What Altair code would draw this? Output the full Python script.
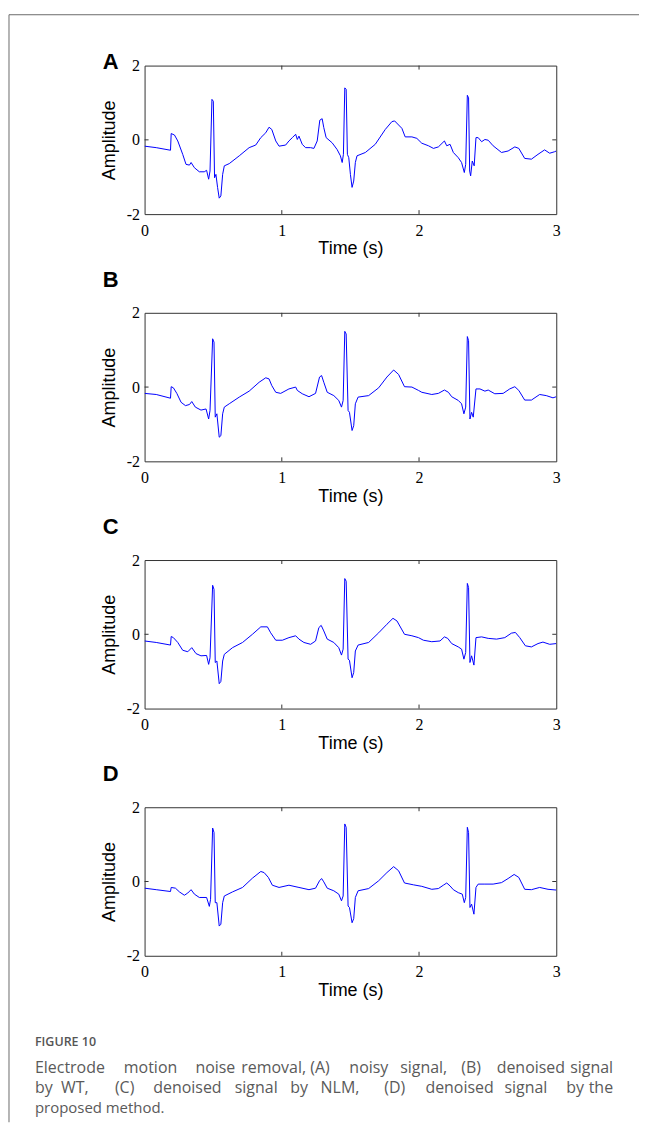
import altair as alt
import pandas as pd

# ---------------- data ----------------
time_a = [0, 0.085, 0.189, 0.194, 0.218, 0.242, 0.278, 0.302, 0.327, 0.339, 0.363, 0.399, 0.435, 0.452,
          0.467, 0.477, 0.491, 0.501, 0.510, 0.520, 0.532, 0.544, 0.556, 0.569, 0.581, 0.617, 0.690, 0.762,
          0.810, 0.847, 0.883, 0.907, 0.927, 0.956, 0.980, 1.028, 1.052, 1.077, 1.101, 1.113, 1.125, 1.149,
          1.173, 1.210, 1.234, 1.258, 1.277, 1.294, 1.306, 1.323, 1.367, 1.403, 1.427, 1.440, 1.449, 1.459,
          1.469, 1.478, 1.488, 1.500, 1.512, 1.524, 1.536, 1.548, 1.609, 1.681, 1.754, 1.802, 1.822, 1.875,
          1.899, 1.948, 1.984, 2.020, 2.069, 2.105, 2.141, 2.185, 2.202, 2.226, 2.250, 2.286, 2.310, 2.330,
          2.340, 2.352, 2.361, 2.369, 2.376, 2.388, 2.402, 2.415, 2.431, 2.456, 2.480, 2.504, 2.540, 2.601,
          2.649, 2.698, 2.727, 2.770, 2.819, 2.867, 2.915, 2.952, 2.988, 3.0]
amp_a = [-0.17, -0.21, -0.28, 0.17, 0.13, -0.03, -0.39, -0.66, -0.68, -0.61, -0.75, -0.86, -0.86, -0.82,
         -1.06, -0.84, 1.09, 1.04, -1.02, -0.93, -1.28, -1.57, -1.51, -0.93, -0.70, -0.64, -0.43, -0.21,
         -0.14, 0.06, 0.19, 0.34, 0.28, -0.03, -0.17, -0.14, -0.03, 0.06, 0.15, 0.01, 0.10, -0.12,
         -0.21, -0.21, -0.23, -0.03, 0.53, 0.57, 0.33, 0.06, -0.08, -0.26, -0.43, -0.61, -0.39, 1.40,
         1.36, -0.39, -0.48, -0.93, -1.28, -1.11, -0.61, -0.43, -0.34, -0.12, 0.28, 0.49, 0.51, 0.31,
         0.08, 0.08, 0.04, -0.09, -0.16, -0.23, -0.19, -0.03, -0.16, -0.12, -0.34, -0.48, -0.61, -0.88,
         -0.66, 1.20, 1.13, -0.84, -0.97, -0.57, -0.70, 0.06, 0.06, -0.05, 0.01, -0.01, -0.16, -0.34,
         -0.30, -0.19, -0.23, -0.50, -0.52, -0.39, -0.27, -0.36, -0.32, -0.30]

time_b = [0, 0.085, 0.189, 0.194, 0.210, 0.235, 0.266, 0.298, 0.327, 0.344, 0.370, 0.411, 0.448, 0.467,
          0.477, 0.496, 0.506, 0.515, 0.527, 0.544, 0.556, 0.569, 0.581, 0.617, 0.690, 0.762, 0.835, 0.883,
          0.907, 0.927, 0.956, 0.992, 1.052, 1.101, 1.113, 1.149, 1.198, 1.246, 1.275, 1.290, 1.306, 1.331,
          1.379, 1.415, 1.435, 1.447, 1.459, 1.469, 1.483, 1.493, 1.512, 1.524, 1.536, 1.556, 1.633, 1.706,
          1.766, 1.815, 1.851, 1.894, 1.948, 1.996, 2.020, 2.093, 2.141, 2.185, 2.214, 2.238, 2.286, 2.310,
          2.327, 2.340, 2.352, 2.361, 2.371, 2.383, 2.395, 2.415, 2.444, 2.480, 2.504, 2.552, 2.613, 2.661,
          2.698, 2.727, 2.770, 2.819, 2.879, 2.927, 2.976, 3.0]
amp_b = [-0.17, -0.20, -0.30, 0.01, -0.02, -0.17, -0.41, -0.50, -0.47, -0.39, -0.54, -0.62, -0.59, -0.86,
         -0.63, 1.30, 1.21, -0.81, -0.72, -1.35, -1.31, -0.72, -0.54, -0.45, -0.27, -0.11, 0.13, 0.25,
         0.22, 0.04, -0.14, -0.17, -0.05, 0.00, -0.09, -0.18, -0.26, -0.17, 0.27, 0.31, 0.13, -0.14,
         -0.23, -0.36, -0.54, -0.36, 1.50, 1.43, -0.63, -0.68, -1.17, -1.04, -0.45, -0.27, -0.23, -0.02,
         0.27, 0.46, 0.34, 0.01, 0.00, -0.09, -0.14, -0.20, -0.17, -0.08, -0.14, -0.26, -0.36, -0.45,
         -0.72, -0.54, 1.36, 1.25, -0.86, -0.68, -0.81, -0.05, -0.05, -0.11, -0.08, -0.18, -0.17, -0.05,
         0.01, -0.09, -0.35, -0.35, -0.20, -0.23, -0.29, -0.26]

time_c = [0, 0.085, 0.189, 0.194, 0.210, 0.242, 0.278, 0.315, 0.344, 0.375, 0.411, 0.452, 0.467, 0.477,
          0.496, 0.506, 0.515, 0.527, 0.544, 0.556, 0.569, 0.581, 0.641, 0.714, 0.786, 0.847, 0.895, 0.919,
          0.956, 1.004, 1.052, 1.101, 1.125, 1.161, 1.210, 1.246, 1.270, 1.287, 1.306, 1.331, 1.379, 1.415,
          1.435, 1.447, 1.459, 1.469, 1.483, 1.493, 1.512, 1.524, 1.536, 1.556, 1.633, 1.706, 1.766, 1.810,
          1.839, 1.894, 1.948, 1.996, 2.032, 2.093, 2.153, 2.185, 2.209, 2.238, 2.286, 2.310, 2.327, 2.340,
          2.352, 2.361, 2.371, 2.383, 2.400, 2.415, 2.456, 2.504, 2.565, 2.625, 2.673, 2.702, 2.734, 2.775,
          2.819, 2.867, 2.903, 2.952, 3.0]
amp_c = [-0.18, -0.22, -0.29, -0.06, -0.09, -0.22, -0.43, -0.47, -0.36, -0.52, -0.58, -0.57, -0.81, -0.63,
         1.32, 1.21, -0.76, -0.72, -1.33, -1.27, -0.72, -0.54, -0.36, -0.22, 0.00, 0.20, 0.20, 0.04,
         -0.16, -0.16, -0.09, -0.04, -0.13, -0.22, -0.27, -0.18, 0.18, 0.24, 0.09, -0.13, -0.22, -0.36,
         -0.56, -0.40, 1.50, 1.43, -0.67, -0.70, -1.17, -1.03, -0.45, -0.29, -0.22, 0.04, 0.27, 0.43,
         0.36, 0.00, -0.04, -0.09, -0.16, -0.20, -0.18, -0.07, -0.11, -0.25, -0.34, -0.40, -0.67, -0.49,
         1.37, 1.26, -0.76, -0.58, -0.83, -0.09, -0.07, -0.11, -0.13, -0.09, 0.03, 0.05, -0.09, -0.31,
         -0.34, -0.25, -0.21, -0.27, -0.25]

time_d = [0, 0.085, 0.189, 0.194, 0.225, 0.254, 0.290, 0.315, 0.339, 0.363, 0.399, 0.452, 0.472, 0.481,
          0.496, 0.506, 0.515, 0.527, 0.544, 0.556, 0.569, 0.581, 0.641, 0.714, 0.786, 0.847, 0.871, 0.902,
          0.931, 0.980, 1.052, 1.125, 1.198, 1.246, 1.275, 1.290, 1.306, 1.331, 1.379, 1.415, 1.435, 1.447,
          1.459, 1.469, 1.483, 1.493, 1.512, 1.524, 1.536, 1.556, 1.633, 1.706, 1.766, 1.815, 1.851, 1.894,
          1.960, 2.020, 2.093, 2.141, 2.177, 2.202, 2.226, 2.250, 2.286, 2.315, 2.330, 2.340, 2.352, 2.361,
          2.371, 2.383, 2.400, 2.415, 2.431, 2.480, 2.540, 2.601, 2.649, 2.693, 2.727, 2.770, 2.819, 2.879,
          2.940, 3.0]
amp_d = [-0.18, -0.22, -0.27, -0.16, -0.18, -0.28, -0.37, -0.31, -0.22, -0.34, -0.43, -0.43, -0.67, -0.48,
         1.44, 1.32, -0.57, -0.57, -1.20, -1.15, -0.57, -0.39, -0.28, -0.16, 0.09, 0.27, 0.24, 0.11,
         -0.10, -0.16, -0.10, -0.16, -0.22, -0.18, 0.02, 0.08, -0.01, -0.18, -0.25, -0.34, -0.52, -0.39,
         1.55, 1.46, -0.66, -0.70, -1.11, -1.00, -0.43, -0.25, -0.19, 0.02, 0.24, 0.40, 0.29, -0.04,
         -0.09, -0.13, -0.21, -0.19, -0.10, -0.04, -0.12, -0.22, -0.30, -0.34, -0.57, -0.43, 1.46, 1.32,
         -0.70, -0.61, -0.88, -0.16, -0.07, -0.07, -0.07, -0.03, 0.08, 0.19, 0.11, -0.21, -0.22, -0.16,
         -0.21, -0.23]

panel_letters = ["A", "B", "C", "D"]
x_tick_values = [0, 1, 2, 3]
y_tick_values = [-2, 0, 2]
inner_x_ticks = [1, 2]
inner_y_ticks = [0]
caption_head = "FIGURE 10"
# caption words (justified lines are spread word by word)
caption_words = [
    ["Electrode", "motion", "noise", "removal,", "(A)", "noisy", "signal,", "(B)", "denoised", "signal"],
    ["by", "WT,", "(C)", "denoised", "signal", "by", "NLM,", "(D)", "denoised", "signal", "by", "the"],
    ["proposed method."],
]
caption_word_x = [
    [35, 151, 216, 274.5, 321, 370, 425, 472.5, 532.5, 615],
    [35, 75, 125, 188, 257, 300, 341, 396, 461, 527.5, 577, 615],
    [35],
]

# ---------------- chart ----------------
W, H = 413, 149
X0 = 145          # page x of the plot's left edge (used to place the caption words)
BLUE = "#0000ff"
FRAME = "#333333"
one = pd.DataFrame({"k": [0]})

x_scale = alt.Scale(domain=[0, 3], nice=False, zero=False)
y_scale = alt.Scale(domain=[-2, 2], nice=False, zero=False)

x_axis = alt.Axis(values=x_tick_values, title="Time (s)", grid=False, domain=False, ticks=False,
                  labelFont="Liberation Serif", labelFontSize=16, labelColor="black",
                  labelPadding=8, labelFlush=False, labelBound=False,
                  titleFont="Liberation Sans", titleFontSize=18, titleFontWeight="normal",
                  titleColor="black", titleX=W / 2, titleY=40, titleBaseline="alphabetic",
                  titleAlign="center")
y_axis = alt.Axis(values=y_tick_values, title="Amplitude", grid=False, domain=False, ticks=False,
                  labelFont="Liberation Serif", labelFontSize=16, labelColor="black",
                  labelPadding=5, labelFlush=False, labelBound=False,
                  labelExpr="toString(datum.value)",
                  titleFont="Liberation Sans", titleFontSize=18, titleFontWeight="normal",
                  titleColor="black", titleX=-30, titleY=H / 2, titleAngle=-90,
                  titleBaseline="alphabetic", titleAlign="center")


def panel(t, v, letter, letter_y, extra=None):
    df = pd.DataFrame({"t": t, "v": v})
    line = alt.Chart(df).mark_line(color=BLUE, strokeWidth=1, clip=True).encode(
        x=alt.X("t:Q", scale=x_scale, axis=x_axis),
        y=alt.Y("v:Q", scale=y_scale, axis=y_axis),
    )
    xt = pd.DataFrame({"t": inner_x_ticks})
    yt = pd.DataFrame({"v": inner_y_ticks})
    tick_b = alt.Chart(xt).mark_rule(color=FRAME, strokeWidth=1).encode(
        x=alt.X("t:Q", scale=x_scale, axis=x_axis), y=alt.value(H), y2=alt.value(H - 4))
    tick_t = alt.Chart(xt).mark_rule(color=FRAME, strokeWidth=1).encode(
        x=alt.X("t:Q", scale=x_scale, axis=x_axis), y=alt.value(0), y2=alt.value(4))
    tick_l = alt.Chart(yt).mark_rule(color=FRAME, strokeWidth=1).encode(
        y=alt.Y("v:Q", scale=y_scale, axis=y_axis), x=alt.value(0), x2=alt.value(4))
    tick_r = alt.Chart(yt).mark_rule(color=FRAME, strokeWidth=1).encode(
        y=alt.Y("v:Q", scale=y_scale, axis=y_axis), x=alt.value(W), x2=alt.value(W - 4))
    lab = alt.Chart(one).mark_text(text=letter, font="Liberation Sans", fontSize=22,
                                   fontWeight="bold", color="black", align="left",
                                   baseline="alphabetic").encode(
        x=alt.value(-42), y=alt.value(letter_y))
    layers = [line, tick_b, tick_t, tick_l, tick_r, lab]
    if extra:
        layers += extra
    return alt.layer(*layers).properties(width=W, height=H)


# outer frame (top + left edge) drawn from panel A
frame_top = alt.Chart(one).mark_rule(color="#6b6b6b", strokeWidth=1).encode(
    x=alt.value(-136), x2=alt.value(496), y=alt.value(-51))
frame_left = alt.Chart(one).mark_rule(color="#6b6b6b", strokeWidth=1).encode(
    x=alt.value(-136), y=alt.value(-51), y2=alt.value(1060))

# caption drawn from panel D
cap_head = alt.Chart(one).mark_text(text=caption_head, font="Open Sans", fontSize=12.5,
                                    fontWeight=600, color="#555555", align="left",
                                    baseline="alphabetic").encode(
    x=alt.value(35 - X0), y=alt.value(240))
cap_layers = [cap_head]
for i, words in enumerate(caption_words):
    xs = caption_word_x[i]
    n = len(words)
    for j, (wd, xx) in enumerate(zip(words, xs)):
        if j == 0:
            al = "left"
        elif j == n - 1 and i < 2:
            al = "right"
        else:
            al = "center"
        cap_layers.append(
            alt.Chart(one).mark_text(text=wd, font="Open Sans", fontSize=16 if i < 2 else 15,
                                     color="#5a5a5a", align=al, baseline="alphabetic").encode(
                x=alt.value(xx - X0), y=alt.value(267 + 20 * i)))

pa = panel(time_a, amp_a, panel_letters[0], 3, [frame_top, frame_left])
pb = panel(time_b, amp_b, panel_letters[1], -26)
pc = panel(time_c, amp_c, panel_letters[2], -26)
pd_ = panel(time_d, amp_d, panel_letters[3], -26, cap_layers)

chart = alt.vconcat(pa, pb, pc, pd_, spacing=99, bounds="flush").properties(
    padding={"left": 0, "top": 4, "right": 0, "bottom": 0},
    background="white",
).configure_view(stroke=FRAME, strokeWidth=1)

chart.save("out.html", embed_options={"renderer": "svg", "actions": False})
